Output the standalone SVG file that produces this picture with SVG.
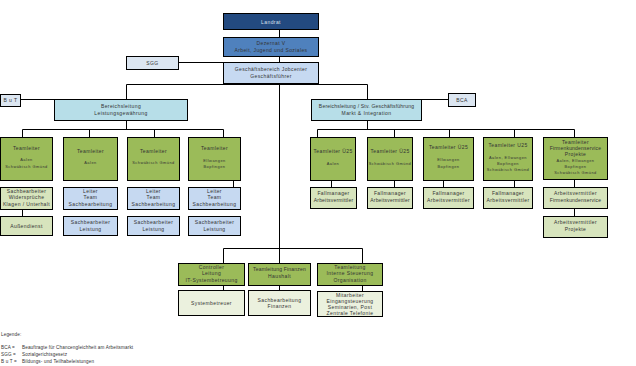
<svg xmlns="http://www.w3.org/2000/svg" width="636" height="366" viewBox="0 0 636 366">
<style>
rect{stroke:#000;stroke-width:1}
.ln{stroke:#000;stroke-width:1;fill:none}
text{font-family:"Liberation Sans",Arial,sans-serif;font-size:5px;fill:#333;text-anchor:middle;letter-spacing:0.4px}
.s{font-size:3.9px;letter-spacing:0.5px}
.lg{text-anchor:start;font-size:4.6px;letter-spacing:0.15px}
.t{letter-spacing:0.2px}
.w{fill:#d9e1ee}
.c1{fill:#234a80}.c2{fill:#4f81bd}.c3{fill:#c6d9f1}.c4{fill:#dce6f1}.c5{fill:#b7dee8}
.g1{fill:#9bbb59}.g2{fill:#d7e4bd}.g3{fill:#ebf1de}
</style>
<g id="connectors" class="ln">
<path d="M279.5 29V263"/>
<path d="M179 62.5H223"/>
<path d="M126.5 84.5H367.5M126.5 84.5V99M367.5 84.5V99"/>
<path d="M21 99.5H54M421 99.5H448"/>
<path d="M126.5 121V129.5M22.5 129.5H223.5M22.5 129.5V137M89.5 129.5V137M154.5 129.5V137M223.5 129.5V137"/>
<path d="M22.5 209V216M233.5 180V187"/>
<path d="M367.5 121V129.5M317.5 129.5H574.5M317.5 129.5V137M394.5 129.5V137M449.5 129.5V137M514.5 129.5V137M574.5 129.5V137"/>
<path d="M331.5 180V187M394.5 180V187M443.5 180V187M514.5 180V187M574.5 180V187M574.5 208V216"/>
<path d="M223.5 248.5H362.5M223.5 248.5V263M362.5 248.5V263"/>
<path d="M223.5 285V290M279.5 285V290M362.5 285V291"/>
</g>
<g id="landrat"><rect class="c1" x="223.5" y="13.5" width="95" height="16"/><text class="w" x="271" y="23.5">Landrat</text></g>
<g id="dezernat"><rect class="c2" x="223.5" y="37.5" width="95" height="19"/><text x="271" y="45">Dezernat V</text><text x="271" y="52">Arbeit, Jugend und Soziales</text></g>
<g id="jobcenter"><rect class="c3" x="223.5" y="62.5" width="95" height="21"/><text x="271" y="71">Geschäftsbereich Jobcenter</text><text x="271" y="78">Geschäftsführer</text></g>
<g id="sgg"><rect class="c4" x="126.5" y="56.5" width="52" height="13"/><text x="152.5" y="64.5">SGG</text></g>
<g id="but"><rect class="c4" x="0.5" y="94.5" width="20" height="12"/><text x="10.5" y="102">B u T</text></g>
<g id="bca"><rect class="c4" x="448.5" y="93.5" width="27" height="13"/><text x="462" y="101.5">BCA</text></g>
<g id="bl-leistung"><rect class="c5" x="54.5" y="99.5" width="133" height="21"/><text x="121" y="108">Bereichsleitung</text><text x="121" y="115">Leistungsgewährung</text></g>
<g id="bl-markt"><rect class="c5" x="311.5" y="99.5" width="110" height="21"/><text class="t" x="366.5" y="108">Bereichsleitung / Stv. Geschäftsführung</text><text x="366.5" y="115">Markt &amp; Integration</text></g>

<g id="tl1"><rect class="g1" x="0.5" y="137.5" width="52" height="43"/><text x="26.5" y="150">Teamleiter</text><text class="s" x="26.5" y="161">Aalen</text><text class="s" x="26.5" y="168">Schwäbisch Gmünd</text></g>
<g id="tl2"><rect class="g1" x="63.5" y="137.5" width="54" height="43"/><text x="90.5" y="153">Teamleiter</text><text class="s" x="90.5" y="164">Aalen</text></g>
<g id="tl3"><rect class="g1" x="127.5" y="137.5" width="52" height="43"/><text x="153.5" y="153">Teamleiter</text><text class="s" x="153.5" y="164">Schwäbisch Gmünd</text></g>
<g id="tl4"><rect class="g1" x="188.5" y="137.5" width="52" height="43"/><text x="214.5" y="150">Teamleiter</text><text class="s" x="214.5" y="162">Ellwangen</text><text class="s" x="214.5" y="168">Bopfingen</text></g>

<g id="sb-wid"><rect class="g2" x="0.5" y="187.5" width="52" height="22"/><text x="26.5" y="192.5">Sachbearbeiter</text><text x="26.5" y="199">Widersprüche</text><text x="26.5" y="205.5">Klagen / Unterhalt</text></g>
<g id="aussen"><rect class="g2" x="0.5" y="216.5" width="52" height="19"/><text x="26.5" y="227.5">Außendienst</text></g>
<g id="lt2"><rect class="c3" x="63.5" y="187.5" width="54" height="22"/><text x="90.5" y="192.5">Leiter</text><text x="90.5" y="199">Team</text><text x="90.5" y="205.5">Sachbearbeitung</text></g>
<g id="sl2"><rect class="c3" x="63.5" y="216.5" width="54" height="19"/><text x="90.5" y="223.5">Sachbearbeiter</text><text x="90.5" y="230.5">Leistung</text></g>
<g id="lt3"><rect class="c3" x="127.5" y="187.5" width="52" height="22"/><text x="153.5" y="192.5">Leiter</text><text x="153.5" y="199">Team</text><text x="153.5" y="205.5">Sachbearbeitung</text></g>
<g id="sl3"><rect class="c3" x="127.5" y="216.5" width="52" height="19"/><text x="153.5" y="223.5">Sachbearbeiter</text><text x="153.5" y="230.5">Leistung</text></g>
<g id="lt4"><rect class="c3" x="188.5" y="187.5" width="52" height="22"/><text x="214.5" y="192.5">Leiter</text><text x="214.5" y="199">Team</text><text x="214.5" y="205.5">Sachbearbeitung</text></g>
<g id="sl4"><rect class="c3" x="188.5" y="216.5" width="52" height="19"/><text x="214.5" y="223.5">Sachbearbeiter</text><text x="214.5" y="230.5">Leistung</text></g>

<g id="tr1"><rect class="g1" x="310.5" y="137.5" width="45" height="43"/><text x="333" y="153">Teamleiter Ü25</text><text class="s" x="333" y="164.5">Aalen</text></g>
<g id="tr2"><rect class="g1" x="367.5" y="137.5" width="45" height="43"/><text x="390" y="153">Teamleiter Ü25</text><text class="s" x="390" y="164.5">Schwäbisch Gmünd</text></g>
<g id="tr3"><rect class="g1" x="423.5" y="137.5" width="50" height="43"/><text x="448.5" y="149">Teamleiter Ü25</text><text class="s" x="448.5" y="161">Ellwangen</text><text class="s" x="448.5" y="167.5">Bopfingen</text></g>
<g id="tr4"><rect class="g1" x="483.5" y="137.5" width="49" height="43"/><text x="508" y="147">Teamleiter U25</text><text class="s" x="508" y="159">Aalen, Ellwangen</text><text class="s" x="508" y="165">Bopfingen</text><text class="s" x="508" y="171">Schwäbisch Gmünd</text></g>
<g id="tr5"><rect class="g1" x="543.5" y="137.5" width="64" height="42"/><text x="575.5" y="143.5">Teamleiter</text><text class="t" x="575.5" y="149.5">Firmenkundenservice</text><text x="575.5" y="156">Projekte</text><text class="s" x="575.5" y="162">Aalen, Ellwangen</text><text class="s" x="575.5" y="167.5">Bopfingen</text><text class="s" x="575.5" y="173.5">Schwäbisch Gmünd</text></g>

<g id="fm1"><rect class="g2" x="310.5" y="187.5" width="46" height="21"/><text x="333.5" y="195">Fallmanager</text><text class="t" x="333.5" y="201.5">Arbeitsvermittler</text></g>
<g id="fm2"><rect class="g2" x="367.5" y="187.5" width="45" height="21"/><text x="390" y="195">Fallmanager</text><text class="t" x="390" y="201.5">Arbeitsvermittler</text></g>
<g id="fm3"><rect class="g2" x="423.5" y="187.5" width="50" height="21"/><text x="448.5" y="195">Fallmanager</text><text x="448.5" y="201.5">Arbeitsvermittler</text></g>
<g id="fm4"><rect class="g2" x="483.5" y="187.5" width="49" height="21"/><text x="508" y="195">Fallmanager</text><text x="508" y="201.5">Arbeitsvermittler</text></g>
<g id="av5"><rect class="g2" x="543.5" y="187.5" width="64" height="21"/><text x="575.5" y="195">Arbeitsvermittler</text><text class="t" x="575.5" y="201.5">Firmenkundenservice</text></g>
<g id="avp"><rect class="g2" x="543.5" y="216.5" width="64" height="21"/><text x="575.5" y="224">Arbeitsvermittler</text><text x="575.5" y="230.5">Projekte</text></g>

<g id="controller"><rect class="g1" x="178.5" y="263.5" width="66" height="22"/><text x="211.5" y="268.5">Controller</text><text x="211.5" y="275">Leitung</text><text x="211.5" y="281.5">IT-Systembetreuung</text></g>
<g id="finanzen"><rect class="g1" x="248.5" y="263.5" width="62" height="22"/><text class="t" x="279.5" y="271">Teamleitung Finanzen</text><text x="279.5" y="277.5">Haushalt</text></g>
<g id="steuerung"><rect class="g1" x="317.5" y="263.5" width="65" height="22"/><text x="350" y="268.5">Teamleitung</text><text x="350" y="275">Interne Steuerung</text><text x="350" y="281.5">Organisation</text></g>
<g id="systembetreuer"><rect class="g3" x="178.5" y="290.5" width="66" height="25"/><text x="211.5" y="305">Systembetreuer</text></g>
<g id="sb-finanzen"><rect class="g3" x="248.5" y="290.5" width="62" height="25"/><text x="279.5" y="301.5">Sachbearbeitung</text><text x="279.5" y="308">Finanzen</text></g>
<g id="mitarbeiter"><rect class="g3" x="317.5" y="291.5" width="65" height="25"/><text x="350" y="296.5">Mitarbeiter</text><text x="350" y="302.5">Eingangsteuerung</text><text x="350" y="308.5">Seminarien, Post</text><text x="350" y="314.5">Zentrale Telefonie</text></g>

<g id="legend">
<text class="lg" x="1" y="336">Legende:</text>
<text class="lg" x="1" y="349">BCA =</text><text class="lg" x="22" y="349">Beauftragte für Chancengleichheit am Arbeitsmarkt</text>
<text class="lg" x="1" y="356">SGG =</text><text class="lg" x="22" y="356">Sozialgerichtsgesetz</text>
<text class="lg" x="1" y="363">B u T =</text><text class="lg" x="22" y="363">Bildungs- und Teilhabeleistungen</text>
</g>
</svg>
